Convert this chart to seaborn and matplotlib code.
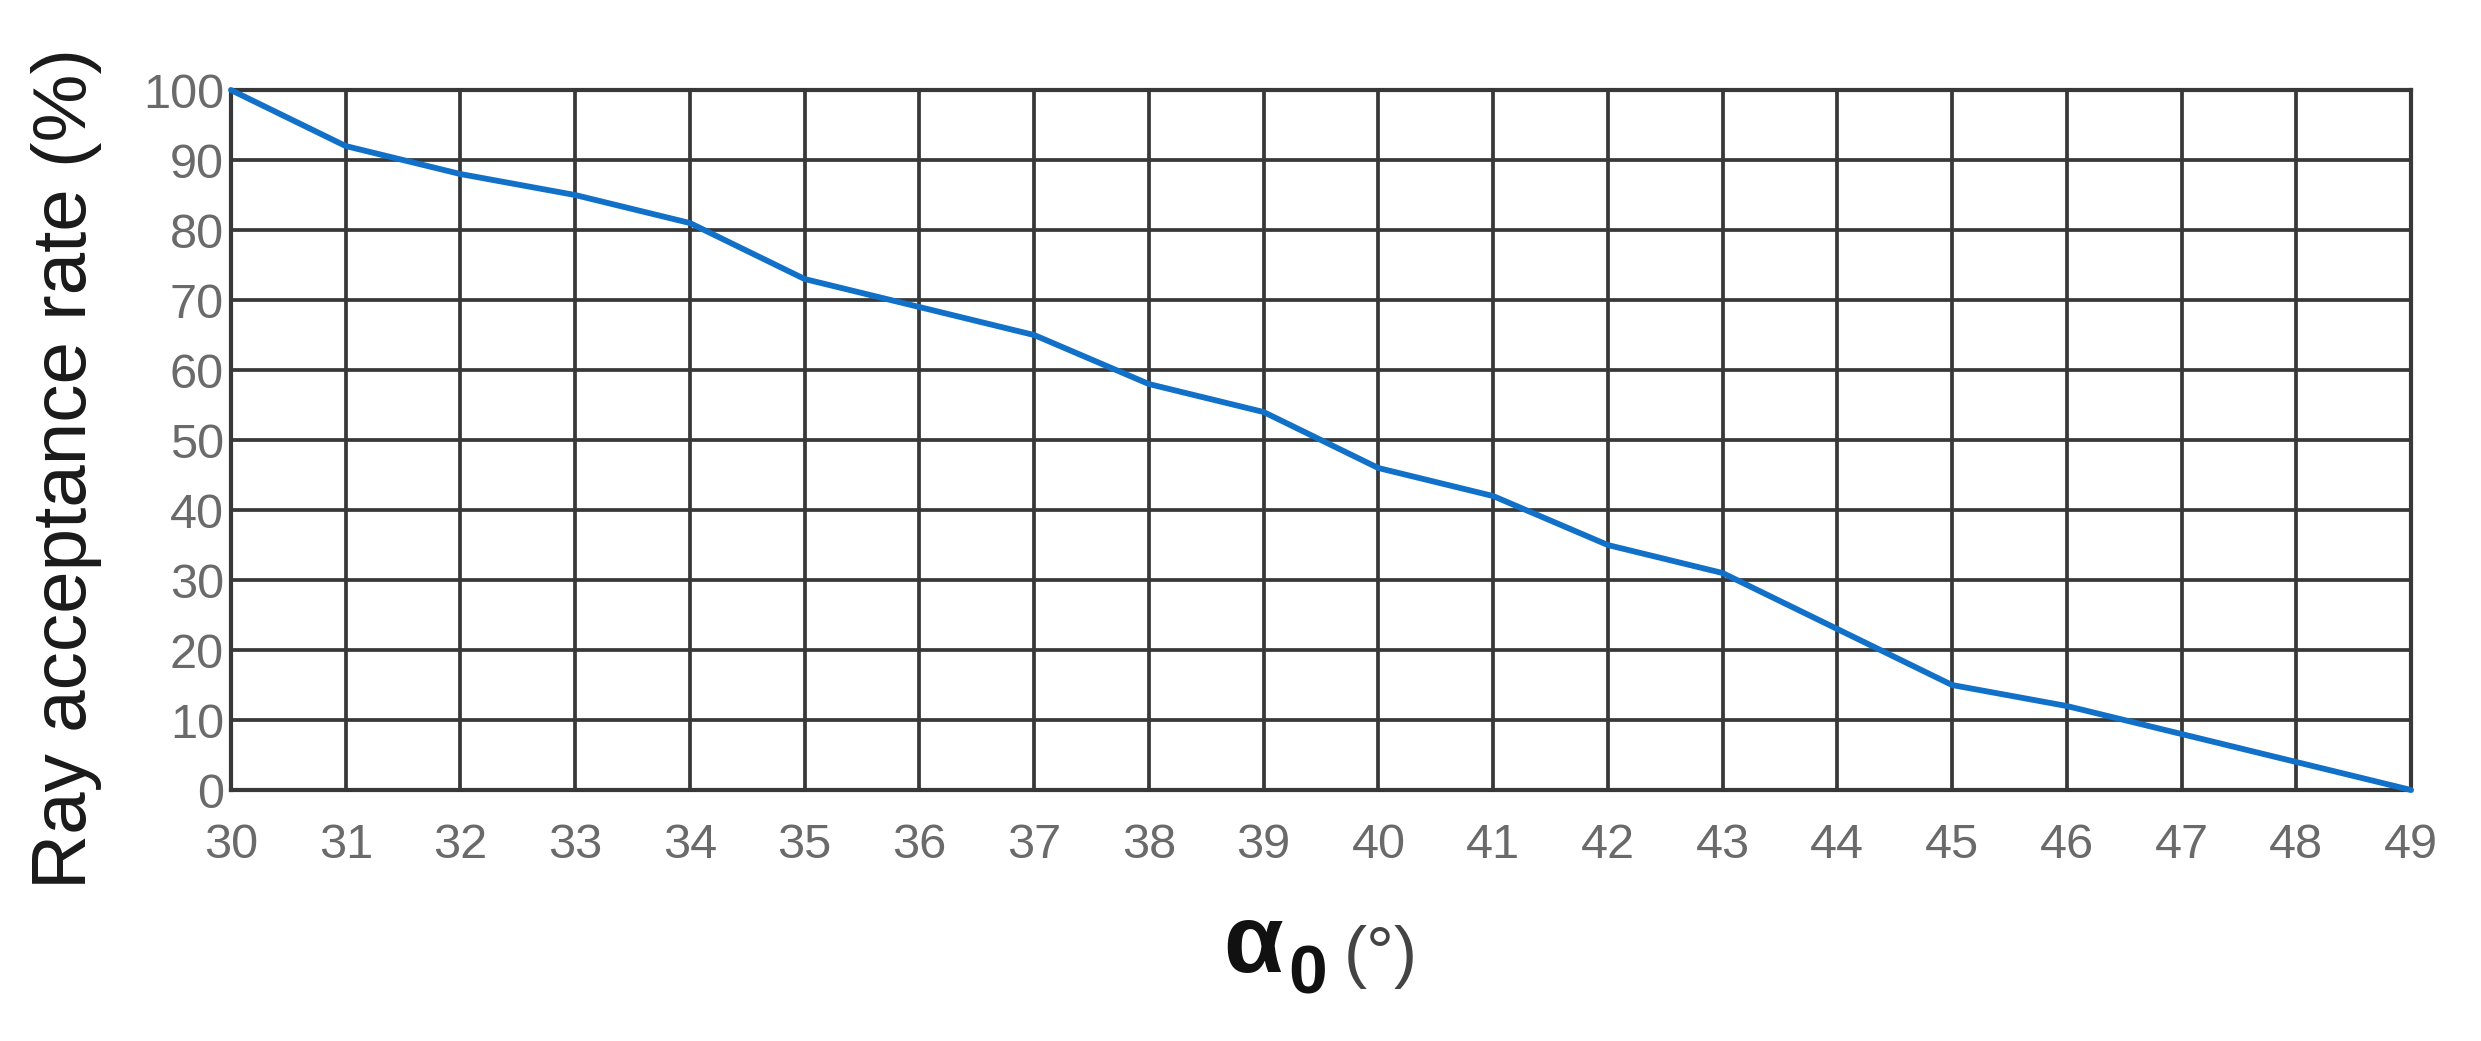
import matplotlib
matplotlib.use("Agg")
import matplotlib.pyplot as plt
import seaborn as sns
import pandas as pd

alpha0 = [30, 31, 32, 33, 34, 35, 36, 37, 38, 39, 40, 41, 42, 43, 44, 45, 46, 47, 48, 49]
acceptance = [100, 92, 88, 85, 81, 73, 69, 65, 58, 54, 46, 42, 35, 31, 23, 15, 12, 8, 4, 0]
x_ticks = list(range(30, 50))
y_ticks = list(range(0, 101, 10))

df = pd.DataFrame({"alpha0": alpha0, "acceptance": acceptance})

sns.set_style("white")
plt.rcParams['font.family'] = ['Liberation Sans', 'DejaVu Sans']

fig = plt.figure(figsize=(24.81, 10.41), dpi=100)
ax = fig.add_axes([0.0931, 0.2411, 0.8787, 0.6724])

sns.lineplot(data=df, x="alpha0", y="acceptance", ax=ax, color="#1170c8",
             linewidth=4.2, zorder=5, clip_on=False)

ax.set_xlim(30, 49)
ax.set_ylim(0, 100)
ax.set_xticks(x_ticks)
ax.set_yticks(y_ticks)
ax.grid(True, color="#383838", linewidth=2.7)
for s in ax.spines.values():
    s.set_visible(True)
    s.set_color("#383838")
    s.set_linewidth(3.0)

ax.tick_params(axis="both", length=0, colors="#6a6a6a", labelsize=35)
ax.tick_params(axis="x", pad=24)
ax.tick_params(axis="y", pad=5)

ax.set_xlabel("")
ax.set_ylabel("Ray acceptance rate (%)", fontsize=55, color="#1a1a1a")
ax.yaxis.set_label_coords(-0.059, 0.459)

fig.text(1253 / 2481, 1 - 972 / 1041, "α", fontsize=70, fontweight="bold",
         ha="center", va="baseline", color="#111111")
fig.text(1308 / 2481, 1 - 993 / 1041, "0", fontsize=50, fontweight="bold",
         ha="center", va="baseline", color="#111111")
fig.text(1381 / 2481, 1 - 975 / 1041, "(°)", fontsize=50,
         ha="center", va="baseline", color="#444444")

fig.savefig("out.png", dpi=100, facecolor="white")
